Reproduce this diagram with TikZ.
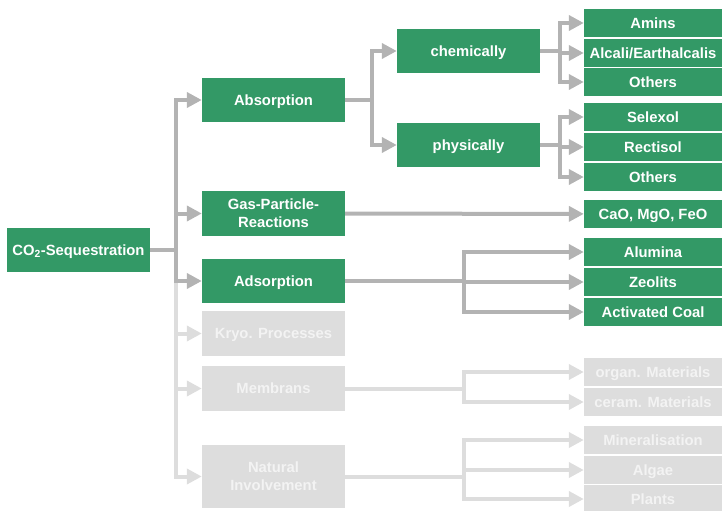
\documentclass[tikz,border=0pt]{standalone}
\usepackage{fontspec}
\setmainfont{Liberation Sans}
\usetikzlibrary{arrows.meta}
\definecolor{grn}{RGB}{51,153,102}
\definecolor{dgray}{RGB}{179,179,179}
\definecolor{lgray}{RGB}{221,221,221}
\definecolor{ltext}{RGB}{243,243,243}
\tikzset{
  box/.style={fill=grn,text=white,inner sep=0pt,align=center,font=\fontsize{14.8}{18}\selectfont\bfseries},
  lbox/.style={box,fill=lgray,text=ltext},
  one/.style={text height=10.6pt,text depth=0pt},
  bigbox/.style={minimum width=143pt,minimum height=44pt},
  smallbox/.style={one,minimum width=138pt,minimum height=28pt},
  conn/.style={draw=dgray,line width=4pt},
  lconn/.style={draw=lgray,line width=4pt},
  arr/.style={-{Triangle[length=15pt,width=15pt]}},
}
\begin{document}
\begin{tikzpicture}[x=1pt,y=-1pt]
\useasboundingbox (0,0) rectangle (723,511);
% level 0 and 1
\node[box,bigbox,one] (co2) at (78.5,250) {CO\textsubscript{2}-Sequestration};
\node[box,bigbox,one] (absorption) at (273.5,100) {Absorption};
\node[box,bigbox,minimum height=45pt] (gas) at (273.5,213.5) {Gas-Particle-\\Reactions};
\node[box,bigbox,one] (adsorption) at (273.5,281) {Adsorption};
\node[lbox,bigbox,one,minimum height=45pt] (kryo) at (273.5,333.5) {Kryo. Processes};
\node[lbox,bigbox,one,minimum height=45pt] (membrans) at (273.5,388.5) {Membrans};
\node[lbox,bigbox,minimum height=63pt] (natural) at (273.5,476.5) {Natural\\Involvement};
% level 2
\node[box,bigbox,one] (chem) at (468.5,51) {chemically};
\node[box,bigbox,one] (phys) at (468.5,145) {physically};
% right column
\node[box,smallbox] (amins) at (653,23) {Amins};
\node[box,smallbox] (alcali) at (653,53) {Alcali/Earthalcalis};
\node[box,smallbox] (othersA) at (653,82) {Others};
\node[box,smallbox] (selexol) at (653,117) {Selexol};
\node[box,smallbox] (rectisol) at (653,147) {Rectisol};
\node[box,smallbox] (othersB) at (653,177) {Others};
\node[box,smallbox] (cao) at (653,214) {CaO, MgO, FeO};
\node[box,smallbox] (alumina) at (653,252) {Alumina};
\node[box,smallbox] (zeolits) at (653,282) {Zeolits};
\node[box,smallbox] (coal) at (653,312) {Activated Coal};
\node[lbox,smallbox] (organ) at (653,372) {organ. Materials};
\node[lbox,smallbox] (ceram) at (653,402) {ceram. Materials};
\node[lbox,smallbox] (mineral) at (653,440) {Mineralisation};
\node[lbox,smallbox] (algae) at (653,470) {Algae};
\node[lbox,smallbox] (plants) at (653,499) {Plants};
% fork coordinates
\coordinate (trunk) at (176,250);
\coordinate (fabs) at (372,100);
\coordinate (fchem) at (560,51);
\coordinate (fphys) at (560,145);
\coordinate (fads) at (464,281);
\coordinate (fmem) at (464,388.5);
\coordinate (fnat) at (464,476.5);
% light connectors
\draw[lconn,arr] (trunk|-adsorption) |- (kryo);
\draw[lconn,arr] (trunk|-adsorption) |- (membrans);
\draw[lconn,arr] (trunk|-adsorption) |- (natural);
\draw[lconn] (membrans.east) -- (fmem);
\draw[lconn,arr] (fmem) |- (organ);
\draw[lconn,arr] (fmem) |- (ceram);
\draw[lconn] (natural.east) -- (fnat);
\draw[lconn,arr] (fnat) |- (mineral);
\draw[lconn,arr] (fnat) |- (algae);
\draw[lconn,arr] (fnat) |- (plants);
% dark connectors
\draw[conn] (co2.east) -- (trunk);
\draw[conn,arr] (trunk) |- (absorption);
\draw[conn,arr] (trunk) |- (gas);
\draw[conn,arr] (trunk) |- (adsorption);
\draw[conn] (absorption.east) -- (fabs);
\draw[conn,arr] (fabs) |- (chem);
\draw[conn,arr] (fabs) |- (phys);
\draw[conn] (chem.east) -- (fchem);
\draw[conn,arr] (fchem) |- (amins);
\draw[conn,arr] (fchem) |- (alcali);
\draw[conn,arr] (fchem) |- (othersA);
\draw[conn] (phys.east) -- (fphys);
\draw[conn,arr] (fphys) |- (selexol);
\draw[conn,arr] (fphys) |- (rectisol);
\draw[conn,arr] (fphys) |- (othersB);
\draw[conn,arr] (gas) -- (cao);
\draw[conn] (adsorption.east) -- (fads);
\draw[conn,arr] (fads) |- (alumina);
\draw[conn,arr] (fads) |- (zeolits);
\draw[conn,arr] (fads) |- (coal);
\end{tikzpicture}
\end{document}
